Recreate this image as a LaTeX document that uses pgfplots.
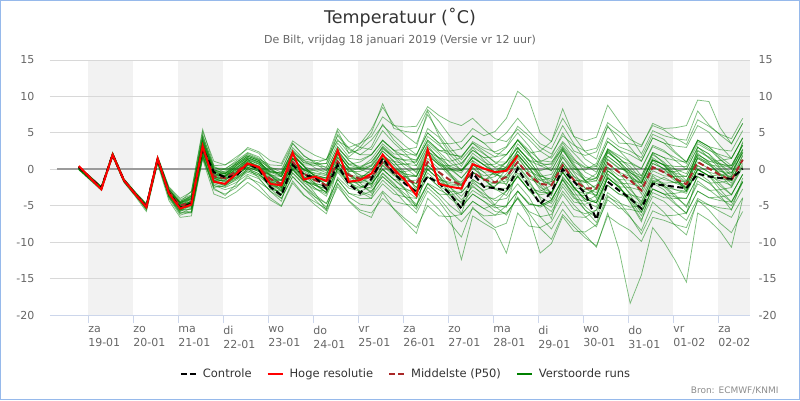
\documentclass[border=0pt]{standalone}
\usepackage{fontspec}
\setmainfont{DejaVu Sans}
\usepackage{pgfplots}
\usepackage{pgfplotstable}
\pgfplotsset{compat=1.18}
\definecolor{axblue}{RGB}{204,214,235}
\definecolor{frameblue}{RGB}{150,185,235}
\definecolor{gridgray}{RGB}{216,216,216}
\definecolor{bandgray}{RGB}{242,242,242}
\definecolor{labgray}{RGB}{102,102,102}
\definecolor{titlegray}{RGB}{51,51,51}
\definecolor{memgreen}{RGB}{0,128,0}
\definecolor{medred}{RGB}{170,40,40}
\definecolor{zerogray}{RGB}{155,155,155}

\pgfplotstableread[header=false]{
t -5 1 7 13 19 25 31 37 43 49 55 61 67 73 79 85 91 97 103 109 115 121 127 133 139 145 151 157 163 169 175 181 187 193 199 205 211 217 223 229 235 241 247 253 259 265 271 277 283 289 295 301 307 313 319 325 331 337 343 349
c 0.3 -1.2 -2.6 2.0 -1.5 -3.4 -5.1 1.4 -3.2 -5.3 -4.7 2.9 -0.4 -1.1 -0.9 0.8 0.0 -2.4 -3.6 0.6 -0.8 -1.1 -2.7 0.6 -2.0 -3.3 -1.3 1.5 -0.6 -2.0 -3.1 -1.0 -1.9 -3.4 -5.4 -0.5 -2.4 -2.6 -2.9 0.1 -2.3 -4.8 -3.1 0.0 -1.7 -3.3 -6.9 -1.7 -2.9 -4.0 -5.4 -2.0 -2.2 -2.4 -2.6 -0.6 -1.0 -1.2 -1.3 0.1
h 0.45 -1.2 -2.75 2.0 -1.5 -3.4 -5.2 1.45 -3.3 -5.4 -4.85 3.2 -1.7 -2.0 -0.6 0.8 0.3 -2.0 -2.2 2.3 -1.4 -1.0 -1.6 2.6 -1.7 -1.5 -0.6 2.0 0.0 -1.5 -3.6 2.7 -2.0 -2.4 -2.65 0.7 0.1 -0.4 -0.2 1.9 nan nan nan nan nan nan nan nan nan nan nan nan nan nan nan nan nan nan nan nan
p 0.3 -1.1 -2.5 2.0 -1.5 -3.3 -5.0 1.4 -3.1 -5.0 -4.5 3.0 -1.0 -1.2 -0.3 0.8 0.2 -1.3 -2.0 1.0 -0.6 -1.5 -2.2 1.1 -0.8 -1.3 -1.05 1.0 -0.4 -1.3 -2.0 1.0 -0.4 -1.5 -2.2 -0.4 -1.4 -1.8 -1.05 1.0 -0.8 -2.0 -2.2 0.55 -1.5 -2.6 -2.65 0.8 -0.4 -1.5 -2.9 0.3 -0.4 -1.3 -2.05 1.0 0.1 -0.8 -1.5 1.3
m1 0.1 -1.3 -2.7 2.1 -1.6 -3.4 -5.2 1.5 -2.9 -4.7 -4.1 3.5 -0.5 -0.6 0.5 1.6 1.0 -0.4 -1.0 2.0 0.4 -0.2 -0.7 2.6 0.7 0.4 1.0 3.0 1.6 1.2 1.0 4.0 2.6 2.0 1.8 3.6 2.6 1.7 2.0 4.0 2.2 0.5 -0.2 2.6 0.5 -1.1 -1.6 1.8 0.6 -0.7 -2.4 0.8 0.1 -0.5 -1.0 2.0 1.1 0.7 0.5 3.3
m2 0.2 -1.2 -2.6 1.9 -1.5 -3.4 -5.3 1.2 -3.4 -5.5 -5.5 2.0 -2.0 -2.5 -1.8 -0.7 -1.3 -3.0 -4.0 -1.0 -2.6 -3.8 -4.7 -1.4 -3.3 -3.6 -3.0 -1.0 -2.4 -3.8 -5.0 -2.0 -3.4 -5.0 -6.2 -4.4 -5.4 -6.3 -6.0 -4.0 -5.8 -6.5 -6.2 -3.4 -5.5 -6.1 -5.6 -2.2 -3.4 -4.0 -4.9 -1.7 -2.4 -2.8 -3.0 0.0 -0.9 -1.3 -1.5 1.3
m3 0.0 -1.4 -2.8 2.2 -1.4 -3.2 -4.8 1.4 -3.1 -4.6 -3.7 4.3 -0.2 -0.6 0.0 1.1 0.5 -1.4 -2.5 0.5 -1.1 -1.5 -1.7 1.6 -0.3 -0.3 0.5 2.5 1.1 0.7 0.5 3.5 2.1 0.2 -1.2 0.6 -0.4 -1.8 -2.0 0.0 -1.8 -3.8 -4.7 -2.0 -4.0 -4.4 -3.6 -0.2 -1.4 -1.5 -1.9 1.3 0.6 0.4 0.4 3.5 2.6 2.0 1.5 4.3
m4 0.2 -1.2 -2.6 2.0 -1.6 -3.4 -5.3 1.2 -3.4 -5.3 -4.9 2.5 -1.5 -1.2 0.2 1.3 0.7 -0.3 -0.5 2.5 0.9 0.5 0.3 3.6 1.7 3.0 5.0 9.0 5.6 5.2 5.0 8.2 6.6 4.5 2.8 4.6 3.6 2.2 2.0 4.0 2.2 -0.5 -2.2 0.6 -1.5 -3.6 -4.6 -1.2 -2.4 -4.0 -5.9 -2.7 -3.4 -3.3 -3.0 0.0 -0.9 -0.8 -0.5 2.3
m5 0.4 -1.0 -2.4 2.1 -1.4 -3.2 -4.9 1.6 -2.8 -4.5 -3.6 4.8 0.2 -0.1 0.7 1.8 1.2 -0.8 -2.0 1.0 -0.6 -2.0 -3.2 0.1 -1.8 -3.0 -3.6 -1.5 -2.9 -4.6 -6.0 -3.0 -4.4 -6.5 -12.4 -6.4 -7.4 -8.3 -11.5 -6.0 -7.8 -8.0 -7.2 -4.4 -6.5 -6.6 -5.6 -2.2 -3.4 -3.5 -3.9 -0.7 -1.4 -1.8 -2.0 1.0 0.1 -0.3 -0.5 2.3
m6 0.1 -1.3 -2.7 1.8 -1.7 -3.5 -5.5 0.9 -3.8 -6.0 -6.0 1.5 -2.5 -2.2 -0.8 0.3 -0.3 -1.3 -1.5 1.5 -0.1 -0.8 -1.2 2.1 0.2 -0.8 -1.0 1.0 -0.4 -1.8 -3.0 0.0 -1.4 -1.8 -1.7 0.1 -0.9 -0.6 1.0 3.0 1.2 1.0 1.8 5.0 2.5 1.9 2.4 5.8 4.6 3.0 1.1 4.3 3.6 2.2 1.0 4.0 3.1 1.7 0.5 3.3
m7 0.0 -1.3 -2.6 2.0 -1.5 -3.3 -5.1 1.5 -3.0 -4.8 -4.5 3.0 -1.0 -1.6 -1.1 0.0 -0.6 -2.4 -3.5 -0.5 -2.1 -3.8 -5.2 -1.9 -3.8 -4.8 -5.0 -3.0 -4.4 -4.8 -5.0 -2.0 -3.4 -3.5 -3.2 -1.4 -2.4 -2.3 -1.0 1.0 -0.8 -1.5 -1.2 1.6 -0.5 -2.6 -3.6 -0.2 -1.4 -3.5 -5.9 -2.7 -3.4 -4.8 -6.0 -3.0 -3.9 -4.3 -4.5 -1.7
m8 0.2 -1.2 -2.5 2.1 -1.4 -3.3 -5.1 1.3 -3.3 -5.1 -4.4 3.3 -0.7 -0.6 0.7 1.8 1.2 0.2 0.0 3.0 1.4 1.2 1.3 4.6 2.7 2.0 2.0 4.0 2.6 1.0 -0.5 2.5 1.1 -0.8 -2.2 -0.4 -1.4 -2.6 -2.6 -0.5 -2.3 -3.2 -3.2 -0.4 -2.5 -2.8 -2.2 1.3 0.1 -0.2 -0.9 2.3 1.6 1.2 1.0 4.0 3.1 2.7 2.5 5.3
m9 0.3 -1.1 -2.5 2.0 -1.5 -3.4 -5.0 1.6 -2.6 -4.4 -3.7 4.0 0.0 -0.7 -0.3 0.8 0.2 -1.8 -3.0 0.0 -1.6 -2.2 -2.7 0.6 -1.3 -1.3 -0.6 1.5 0.1 -1.0 -2.0 1.0 -0.4 -2.5 -4.2 -2.4 -3.4 -4.3 -4.0 -2.0 -3.8 -6.5 -8.2 -5.5 -7.5 -9.0 -10.7 -6.0 -11.0 -18.4 -14.5 -8.0 -10.0 -12.5 -15.5 -6.0 -7.0 -8.5 -10.7 -4.0
m10 0.1 -1.2 -2.7 1.9 -1.6 -3.4 -5.4 1.1 -3.7 -5.8 -4.9 2.7 -1.3 -1.0 0.5 1.6 1.0 -0.9 -2.0 1.0 -0.6 -2.0 -3.2 0.1 -1.8 -1.3 0.0 2.0 0.6 0.7 1.0 4.0 2.6 2.5 2.8 4.6 3.6 3.7 5.0 7.0 5.2 3.5 2.8 6.0 3.5 1.4 0.4 3.8 2.6 2.0 1.1 4.3 3.6 3.2 3.0 6.0 5.1 3.2 1.5 4.3
m11 0.3 -1.0 -2.4 2.1 -1.4 -3.3 -5.0 1.4 -3.1 -5.2 -4.9 2.5 -1.5 -2.0 -1.3 -0.2 -0.8 -1.6 -1.5 1.5 -0.1 -0.2 -0.2 3.1 1.2 0.2 0.0 2.0 0.6 -1.0 -2.5 0.5 -0.9 -3.0 -4.7 -2.9 -3.9 -4.0 -3.0 -1.0 -2.8 -3.0 -2.2 0.6 -1.5 -1.6 -0.6 2.8 1.6 0.0 -1.9 1.3 0.6 -1.3 -3.0 0.0 -0.9 -2.3 -3.5 -0.7
m12 0.2 -1.1 -2.5 2.2 -1.3 -3.1 -4.8 1.6 -2.7 -4.6 -3.9 3.8 -0.2 0.0 1.2 2.3 1.7 0.0 -1.0 2.0 0.4 -1.0 -2.2 1.1 -0.8 -1.8 -2.0 0.0 -1.4 -2.8 -4.0 -1.0 -2.4 -3.0 -3.2 -1.4 -2.4 -1.8 0.0 2.0 0.2 -0.2 0.3 3.0 1.0 0.2 0.4 3.8 2.6 1.0 -0.9 2.3 1.6 0.0 -1.6 1.5 0.6 -0.6 -1.5 1.3
m13 0.0 -1.4 -2.8 1.8 -1.7 -3.6 -5.4 1.0 -3.7 -5.9 -5.9 1.8 -2.2 -2.8 -2.3 -1.2 -1.8 -2.8 -3.0 0.0 -1.6 -2.2 -2.7 0.6 -1.3 -2.3 -2.6 -0.5 -1.9 -3.8 -5.5 -2.5 -3.9 -5.8 -7.2 -5.4 -6.4 -6.3 -5.0 -3.0 -4.8 -5.0 -4.2 -1.4 -3.5 -5.6 -6.6 -3.2 -4.4 -6.5 -8.9 -5.7 -6.4 -6.3 -6.0 -3.0 -3.9 -3.8 -3.5 -0.7
m14 0.3 -1.0 -2.4 2.3 -1.3 -3.2 -4.9 1.5 -3.0 -4.9 -4.2 3.4 -0.6 -0.9 -0.1 1.0 0.4 -0.4 -0.5 2.5 0.9 0.8 0.8 4.1 2.2 2.7 4.0 6.0 4.6 3.2 2.0 5.0 3.6 1.5 -0.2 1.6 0.6 0.7 2.0 4.0 2.2 2.5 3.8 7.0 4.5 3.9 4.4 8.8 6.6 4.5 2.1 5.3 4.6 4.2 4.0 8.0 6.1 4.7 3.5 6.3
m15 0.1 -1.2 -2.6 1.9 -1.6 -3.4 -5.2 1.2 -3.4 -5.2 -4.5 3.0 -1.0 -1.4 -0.8 0.3 -0.3 -2.0 -3.0 0.0 -1.6 -2.0 -2.2 1.1 -0.8 -1.0 -0.6 1.5 0.1 -0.6 -1.0 2.0 0.6 -1.0 -2.2 -0.4 -1.4 -2.0 -1.6 0.5 -1.3 -2.0 -1.7 1.0 -1.0 -1.8 -1.6 1.8 0.6 -1.0 -2.9 0.3 -0.4 -1.6 -2.6 0.5 -0.4 -0.8 -1.0 1.8
m16 0.2 -1.2 -2.6 2.0 -1.5 -3.3 -5.0 1.5 -2.9 -5.2 -5.3 2.2 -1.8 -2.2 -1.5 -0.4 -1.0 -2.2 -2.5 0.5 -1.1 -1.2 -1.2 2.1 0.2 0.2 1.0 3.0 1.6 0.2 -1.0 2.0 0.6 0.5 0.8 2.6 1.6 1.7 3.0 5.0 3.2 1.0 -0.2 2.6 0.5 -1.6 -2.6 0.8 -0.4 -2.5 -4.9 -1.7 -2.4 -3.8 -5.0 -2.0 -2.9 -2.8 -2.5 0.3
m17 0.1 -1.3 -2.6 2.1 -1.5 -3.3 -5.1 1.3 -3.2 -5.0 -4.0 3.6 -0.4 -0.3 0.9 2.0 1.4 0.6 0.5 3.5 1.9 0.8 -0.2 3.1 1.2 0.0 -0.6 1.5 0.1 -1.6 -3.0 0.0 -1.4 -3.5 -5.2 -3.4 -4.4 -5.8 -6.0 -4.0 -6.5 -11.5 -10.2 -6.5 -8.5 -8.6 -7.6 -4.2 -5.4 -5.5 -5.9 -2.7 -3.4 -3.8 -4.0 -1.0 -1.9 -3.3 -4.5 -1.7
m18 0.3 -1.1 -2.5 1.9 -1.6 -3.4 -5.0 1.4 -3.1 -5.0 -4.4 3.2 -0.8 -1.3 -0.6 0.5 -0.1 -1.8 -2.8 0.2 -1.4 -2.6 -3.7 -0.4 -2.3 -2.6 -2.0 0.0 -1.4 -1.6 -1.5 1.5 0.1 -0.2 -0.2 1.6 0.6 -0.3 0.0 2.0 0.2 -2.0 -3.2 -0.4 -2.5 -4.1 -4.6 -1.2 -2.4 -2.5 -2.9 0.3 -0.4 -0.3 0.0 3.0 2.1 0.7 -0.5 2.3
m19 0.0 -1.3 -2.7 2.0 -1.5 -3.4 -5.3 1.2 -3.6 -5.7 -4.4 4.4 -0.1 -0.5 0.2 1.3 0.7 -0.8 -1.5 1.5 -0.1 -0.5 -0.7 2.6 0.7 1.0 2.0 4.0 2.6 2.7 3.0 8.0 4.6 2.5 0.8 2.6 1.6 0.2 0.0 2.0 0.2 -1.5 -2.2 0.6 -1.5 -1.8 -1.2 2.3 1.1 0.8 0.1 3.3 2.6 1.2 0.0 3.0 2.1 0.2 -1.5 1.3
m20 0.4 -1.0 -2.4 2.2 -1.4 -3.2 -4.9 1.6 -2.8 -4.7 -4.6 2.8 -1.2 -1.3 -0.3 0.8 0.2 -2.0 -3.5 -0.5 -2.1 -3.5 -4.7 -1.4 -3.3 -4.0 -4.0 -2.0 -3.4 -3.8 -4.0 -1.0 -2.4 -4.0 -5.2 -3.4 -4.4 -5.3 -5.0 -3.0 -4.8 -5.0 -4.2 -1.4 -3.5 -3.6 -2.6 0.8 -0.4 -1.0 -1.9 1.3 0.6 -1.3 -3.0 0.0 -0.9 -2.8 -4.5 -1.7
m21 0.2 -1.2 -2.6 2.1 -1.5 -3.4 -5.1 1.4 -3.1 -4.5 -3.0 5.5 0.5 0.6 1.7 2.8 2.2 0.2 -1.0 2.0 0.4 -1.0 -2.2 1.1 -0.8 -1.6 -1.6 0.5 -0.9 -1.0 -1.0 2.0 0.6 0.0 -0.2 1.6 0.6 -0.8 -1.0 1.0 -0.8 -2.5 -3.2 -0.4 -2.5 -4.1 -4.6 -1.2 -2.4 -4.2 -6.4 -3.2 -3.9 -4.0 -4.0 -1.0 -1.9 -1.8 -1.5 1.3
m22 0.3 -1.1 -2.5 2.0 -1.5 -3.3 -5.0 1.5 -3.0 -5.5 -5.5 1.7 -2.3 -2.4 -1.3 -0.2 -0.8 -1.8 -2.0 1.0 -0.6 -1.2 -1.7 1.6 -0.3 0.2 1.4 3.5 2.1 2.0 2.0 5.0 3.6 3.5 3.8 5.6 4.6 5.2 7.0 10.7 9.5 5.0 3.8 8.3 4.5 2.4 1.4 6.0 3.6 3.5 3.1 6.3 5.6 5.7 6.0 9.5 9.3 5.7 3.5 6.3
m23 0.1 -1.2 -2.6 2.1 -1.5 -3.3 -5.2 1.3 -3.3 -5.3 -4.4 3.1 -0.9 -0.8 0.3 1.4 0.8 -1.2 -2.3 0.7 -0.9 -2.2 -3.2 0.1 -1.8 -1.8 -1.0 1.0 -0.4 -0.3 0.0 3.0 1.6 0.0 -1.2 0.6 -0.4 -0.3 1.0 3.0 1.2 0.5 0.8 3.6 1.5 -0.4 -1.2 2.3 1.1 -1.0 -3.4 -0.2 -0.9 -1.0 -1.0 2.0 1.1 1.2 1.5 4.3
m24 0.2 -1.1 -2.5 2.0 -1.5 -3.3 -5.1 1.4 -3.1 -5.3 -5.1 2.4 -1.6 -1.5 -0.3 0.8 0.2 -0.8 -1.0 2.0 0.4 -1.0 -2.2 1.1 -0.8 -2.3 -3.0 -1.0 -2.4 -2.8 -3.0 0.0 -1.4 -2.0 -2.2 -0.4 -1.4 -2.8 -3.0 -1.0 -2.8 -4.5 -5.2 -2.4 -4.5 -4.8 -4.2 -0.7 -1.9 -2.0 -2.4 0.8 0.1 -1.3 -2.6 0.5 -0.4 -2.0 -3.5 -0.7
m25 0.2 -1.2 -2.5 2.1 -1.4 -3.2 -4.9 1.5 -2.8 -4.6 -4.0 3.5 -0.5 -1.2 -0.8 0.3 -0.3 -2.6 -4.0 -1.0 -2.6 -4.2 -5.7 -2.4 -4.3 -5.6 -6.0 -4.0 -5.4 -6.8 -8.0 -5.0 -6.4 -6.5 -6.2 -4.4 -5.4 -4.8 -3.0 -1.0 -2.8 -3.5 -3.2 -0.4 -2.5 -4.1 -4.6 -1.2 -2.4 -4.5 -6.9 -3.7 -4.4 -5.8 -7.0 -4.0 -4.9 -5.3 -5.5 -2.7
m26 0.0 -1.3 -2.7 1.9 -1.6 -3.4 -5.2 1.2 -3.6 -5.5 -4.4 3.3 -0.7 -0.6 0.7 1.8 1.2 -0.6 -1.5 1.5 -0.1 -0.8 -1.2 2.1 0.2 0.0 0.4 2.5 1.1 -0.8 -2.5 0.5 -0.9 -2.5 -3.7 -1.9 -2.9 -2.3 -0.6 1.5 -0.3 -1.0 -0.7 2.0 0.0 -0.1 0.8 4.3 3.1 2.5 1.6 4.8 4.1 2.4 1.0 4.0 3.1 1.4 0.0 2.8
m27 0.2 -1.2 -2.6 2.0 -1.6 -3.4 -5.0 1.4 -3.0 -5.0 -4.7 2.8 -1.2 -0.9 0.5 1.6 1.0 -0.3 -0.8 2.2 0.6 0.6 0.8 5.3 2.2 3.5 5.5 8.5 6.1 4.7 3.5 7.5 5.1 3.0 1.3 3.1 2.1 1.0 1.0 3.0 1.2 -0.8 -1.7 1.0 -1.0 -2.6 -3.2 0.3 -0.9 -1.2 -1.9 1.3 0.6 0.0 -0.6 2.5 1.6 0.0 -1.5 1.3
m28 0.1 -1.2 -2.6 1.9 -1.6 -3.3 -5.2 1.3 -3.4 -5.4 -4.3 3.7 -0.3 -1.0 -0.5 0.6 0.0 -1.4 -2.0 1.0 -0.6 -1.0 -1.2 2.1 0.2 -1.3 -2.0 0.0 -1.4 -2.6 -3.5 -0.5 -1.9 -2.2 -2.2 -0.4 -1.4 -1.0 0.4 2.5 0.7 -1.2 -2.2 0.6 -1.5 -3.1 -3.6 -0.2 -1.4 -2.8 -4.4 -1.2 -1.9 -1.8 -1.6 1.5 0.6 0.4 0.5 3.3
m29 0.2 -1.2 -2.6 2.2 -1.4 -3.2 -5.1 1.7 -2.5 -4.2 -3.5 4.6 0.4 -0.5 0.9 2.2 1.5 0.3 -0.4 3.6 1.8 1.0 0.2 4.8 2.9 2.0 3.1 6.2 4.0 2.5 1.8 5.6 4.4 2.0 0.4 3.0 1.2 -0.6 -1.4 1.8 -0.5 -2.8 -3.6 0.2 -2.4 -4.4 -5.2 -1.0 -2.6 -3.9 -5.5 -1.8 -1.1 -1.9 -2.5 1.6 0.9 -0.2 -1.1 2.7
m30 0.0 -1.4 -2.8 1.9 -1.7 -3.5 -5.6 1.0 -4.0 -6.3 -5.8 1.9 -2.8 -3.4 -2.5 -0.9 -2.2 -3.9 -5.0 -1.6 -3.5 -4.9 -6.1 -2.0 -4.4 -5.9 -6.6 -3.2 -5.5 -7.2 -8.8 -4.0 -5.5 -7.4 -9.3 -5.2 -6.8 -8.0 -7.4 -3.0 -4.6 -5.2 -4.4 -1.2 -2.8 -3.4 -2.7 1.4 0.2 -0.5 -1.2 2.0 1.0 -0.6 -1.8 2.2 0.9 -0.8 -2.4 0.5
m31 0.3 -1.1 -2.5 2.1 -1.5 -3.3 -4.9 1.5 -3.0 -4.9 -4.6 3.3 -1.2 -1.8 -0.6 1.4 -0.2 -0.7 -2.6 1.9 0.5 -1.9 -2.5 2.5 -0.1 -0.8 -2.3 1.8 1.0 -0.4 -2.9 2.6 0.8 -0.6 -3.0 1.2 -1.6 -0.3 -2.2 2.8 1.4 -1.0 -3.5 2.9 0.2 -1.6 -4.0 2.7 1.5 0.4 -1.4 2.2 0.8 -0.9 -2.8 3.1 1.5 0.6 -0.9 3.8
m32 0.1 -1.3 -2.6 1.9 -1.6 -3.4 -5.3 1.3 -3.5 -5.6 -4.8 2.6 -1.8 -2.2 -1.0 0.6 -0.2 -1.6 -2.8 1.4 0.0 -0.6 -0.9 2.8 1.5 1.3 2.0 3.9 2.6 1.8 1.2 4.5 3.3 2.1 1.7 3.6 2.2 0.9 0.2 2.1 0.3 -2.2 -4.1 -1.5 -3.8 -5.6 -7.3 -3.6 -5.0 -6.6 -8.4 -4.5 -5.9 -7.7 -9.0 -4.2 -5.6 -7.4 -8.7 -5.8
m33 0.4 -1.0 -2.4 2.3 -1.3 -3.1 -4.7 1.8 -2.4 -4.0 -3.1 5.2 1.1 0.6 1.4 3.0 2.4 1.2 0.8 3.9 2.8 1.9 1.3 5.6 3.8 3.0 2.7 5.3 3.6 2.2 0.5 3.3 1.4 -0.6 -2.0 0.3 -1.3 -2.7 -3.6 -0.8 -2.9 -4.6 -5.8 -3.0 -4.9 -6.5 -7.9 -3.8 -4.6 -5.2 -5.0 -1.5 -2.0 -2.8 -3.3 -0.1 -0.9 -1.6 -2.2 0.8
m34 -0.1 -1.5 -2.9 1.7 -1.8 -3.7 -5.8 0.7 -4.3 -6.6 -6.4 1.4 -3.4 -4.0 -3.1 -1.8 -2.9 -4.2 -5.1 -1.9 -3.6 -4.5 -5.4 -1.1 -2.6 -3.0 -2.4 0.6 -0.7 -1.5 -2.0 2.2 0.9 0.1 -0.5 1.8 0.6 -0.4 0.3 3.5 1.9 0.8 0.6 3.2 1.3 0.3 0.1 2.6 1.0 -0.4 -1.6 1.2 0.0 -1.4 -2.4 1.8 0.7 -0.7 -1.9 2.0
m35 0.2 -1.2 -2.5 2.0 -1.5 -3.3 -5.0 1.4 -3.2 -5.1 -4.4 3.2 -0.8 -1.0 0.1 1.5 0.9 -0.2 -0.6 2.3 1.2 0.8 1.4 3.9 3.0 3.6 4.5 7.2 6.0 5.8 5.9 8.6 7.4 6.5 6.0 7.0 5.5 4.2 3.8 5.5 4.1 2.5 1.5 3.8 2.2 0.6 -0.4 2.5 1.1 -0.4 -1.8 1.6 0.5 -0.8 -2.0 2.6 1.7 0.8 0.1 3.6
m36 0.1 -1.3 -2.7 1.9 -1.6 -3.5 -5.4 1.1 -3.8 -6.1 -5.3 2.3 -1.6 -1.5 -0.4 1.1 0.4 -0.9 -1.6 1.5 -0.3 -1.1 -1.4 1.8 -0.5 -1.9 -3.3 -0.6 -2.1 -3.4 -4.8 -1.9 -2.8 -3.6 -4.5 -2.2 -3.7 -5.1 -6.3 -3.8 -6.0 -8.1 -9.6 -6.2 -7.9 -9.4 -10.5 -6.4 -7.5 -8.4 -9.9 -6.6 -7.0 -7.6 -8.0 -4.4 -4.9 -5.8 -6.6 -3.9
m37 0.3 -1.1 -2.4 2.1 -1.4 -3.3 -5.1 1.6 -2.8 -4.7 -4.0 3.9 -0.2 -0.9 -0.1 1.3 0.0 -1.6 -2.4 0.4 -1.3 -2.6 -3.4 -0.2 -1.9 -2.5 -1.7 1.6 0.3 -0.7 -0.9 2.4 1.6 1.1 1.6 3.8 2.9 2.4 3.1 5.9 4.6 3.0 2.1 4.6 3.3 2.5 2.9 6.4 5.2 4.1 3.3 6.0 5.4 4.3 3.4 6.8 5.9 4.8 4.2 7.0
m38 0.2 -1.2 -2.6 2.0 -1.5 -3.4 -5.2 1.3 -3.3 -5.6 -5.9 2.0 -2.6 -3.6 -2.0 0.2 -1.2 -3.0 -4.4 0.6 -1.4 -3.3 -5.6 0.4 -1.6 -3.1 -4.0 0.9 -0.6 -2.8 -5.2 0.6 -1.0 -3.4 -6.1 -1.6 -3.1 -4.9 -5.2 0.4 -1.5 -4.0 -6.8 -1.0 -3.0 -5.1 -6.4 -0.6 -2.2 -4.6 -7.2 -1.9 -2.8 -4.6 -6.1 -0.5 -1.6 -3.6 -5.6 -1.2
m39 0.0 -1.4 -2.7 2.2 -1.5 -3.2 -4.9 1.5 -2.9 -4.6 -3.8 4.1 0.2 0.1 1.0 2.0 1.3 0.0 -0.7 2.7 1.2 0.2 -0.5 2.4 0.6 0.1 0.6 3.2 1.8 0.6 -0.3 2.9 1.6 0.4 -0.2 2.2 1.0 0.3 0.9 4.1 2.6 1.2 1.0 2.8 0.8 -1.5 -2.8 0.3 -1.6 -3.3 -4.6 -0.9 -2.2 -3.5 -5.2 -1.6 -2.8 -4.0 -5.0 -1.8
m40 0.2 -1.2 -2.6 2.0 -1.6 -3.4 -5.1 1.4 -3.1 -5.1 -4.7 2.9 -1.3 -1.7 -1.2 0.1 -0.6 -2.3 -3.4 -0.1 -1.8 -2.8 -3.0 0.9 -0.9 -1.2 -0.2 2.8 1.6 1.3 1.3 3.8 2.4 0.9 -0.1 1.2 0.1 -0.8 -0.2 2.5 0.7 -0.9 -1.4 1.7 -0.3 -1.5 -1.2 2.8 1.9 1.0 0.1 3.1 2.4 1.6 0.8 3.8 2.8 1.3 0.2 2.6
}\raw
\pgfplotstabletranspose[colnames from=0]\data\raw

\begin{document}
\begin{tikzpicture}
\useasboundingbox (0pt,0pt) rectangle (800pt,400pt);
\draw[frameblue, line width=1pt] (0.5pt,0.5pt) rectangle (799.5pt,399.5pt);
\node[font=\fontsize{17.5}{21}\selectfont, text=titlegray] at (400pt,382pt) {Temperatuur (˚C)};
\node[font=\fontsize{11}{13}\selectfont, text=labgray] at (400pt,360pt) {De Bilt, vrijdag 18 januari 2019 (Versie vr 12 uur)};
\node[anchor=east, font=\fontsize{9}{11}\selectfont, text=black!45] at (782pt,9pt) {Bron: ECMWF/KNMI};

\begin{axis}[
  at={(50pt,85pt)}, anchor=south west,
  width=700pt, height=255pt, scale only axis,
  xmin=-20.4, xmax=352.9, ymin=-20, ymax=15,
  ytick={-20,-15,...,15},
  xtick={0,24,...,336},
  xticklabels={{za\\19-01},{zo\\20-01},{ma\\21-01},{di\\22-01},{wo\\23-01},{do\\24-01},{vr\\25-01},{za\\26-01},{zo\\27-01},{ma\\28-01},{di\\29-01},{wo\\30-01},{do\\31-01},{vr\\01-02},{za\\02-02}},
  axis x line*=bottom, axis y line*=left,
  x axis line style={axblue, line width=1pt},
  y axis line style={draw=none},
  tick align=outside,
  major tick length=8pt,
  xtick style={axblue, line width=1pt},
  ytick style={draw=none},
  xticklabel style={anchor=north west, align=left, xshift=-3.5pt, font=\fontsize{11}{14}\selectfont, text=labgray},
  yticklabel style={font=\fontsize{11}{13}\selectfont, text=labgray, xshift=-4pt},
  /pgf/number format/assume math mode=true,
  legend columns=4,
  legend cell align=left,
  legend image code/.code={\draw[#1] (0pt,0pt) -- (15pt,0pt);},
  legend style={at={(0.5,0)}, anchor=center, xshift=5pt, yshift=-59pt, draw=none, fill=none,
    font=\fontsize{11.5}{14}\selectfont, text=titlegray,
    nodes={inner sep=0pt},
    /tikz/every odd column/.append style={column sep=6pt},
    /tikz/every even column/.append style={column sep=15pt}},
]
\addplot[forget plot, draw=none, fill=bandgray] coordinates {(0,-20) (24,-20) (24,15) (0,15)};
\addplot[forget plot, draw=none, fill=bandgray] coordinates {(48,-20) (72,-20) (72,15) (48,15)};
\addplot[forget plot, draw=none, fill=bandgray] coordinates {(96,-20) (120,-20) (120,15) (96,15)};
\addplot[forget plot, draw=none, fill=bandgray] coordinates {(144,-20) (168,-20) (168,15) (144,15)};
\addplot[forget plot, draw=none, fill=bandgray] coordinates {(192,-20) (216,-20) (216,15) (192,15)};
\addplot[forget plot, draw=none, fill=bandgray] coordinates {(240,-20) (264,-20) (264,15) (240,15)};
\addplot[forget plot, draw=none, fill=bandgray] coordinates {(288,-20) (312,-20) (312,15) (288,15)};
\addplot[forget plot, draw=none, fill=bandgray] coordinates {(336,-20) (352.9,-20) (352.9,15) (336,15)};
\addplot[forget plot, gridgray, line width=1pt] coordinates {(-20.4,15) (352.9,15)};
\addplot[forget plot, gridgray, line width=1pt] coordinates {(-20.4,10) (352.9,10)};
\addplot[forget plot, gridgray, line width=1pt] coordinates {(-20.4,5) (352.9,5)};
\addplot[forget plot, gridgray, line width=1pt] coordinates {(-20.4,0) (352.9,0)};
\addplot[forget plot, gridgray, line width=1pt] coordinates {(-20.4,-5) (352.9,-5)};
\addplot[forget plot, gridgray, line width=1pt] coordinates {(-20.4,-10) (352.9,-10)};
\addplot[forget plot, gridgray, line width=1pt] coordinates {(-20.4,-15) (352.9,-15)};
\addplot[forget plot, zerogray, line width=1.6pt] coordinates {(-16.7,0) (352.9,0)};
\pgfplotsinvokeforeach{1,...,40}{
  \addplot[forget plot, memgreen, opacity=0.5, line width=0.75pt] table[x=t, y=m#1] {\data};
}
\addplot[forget plot, medred, line width=2pt, dash pattern=on 6pt off 3.5pt] table[x=t, y=p] {\data};
\addplot[forget plot, black, line width=2pt, dash pattern=on 6pt off 3.5pt] table[x=t, y=c] {\data};
\addplot[forget plot, red, line width=2pt] table[x=t, y=h] {\data};
\addlegendimage{black, line width=2pt, dash pattern=on 6pt off 3pt}
\addlegendentry{Controle}
\addlegendimage{red, line width=2pt}
\addlegendentry{Hoge resolutie}
\addlegendimage{medred, line width=2pt, dash pattern=on 6pt off 3pt}
\addlegendentry{Middelste (P50)}
\addlegendimage{memgreen, line width=2pt}
\addlegendentry{Verstoorde runs}
\end{axis}

\begin{axis}[
  at={(50pt,85pt)}, anchor=south west,
  width=700pt, height=255pt, scale only axis,
  xmin=-20.4, xmax=352.9, ymin=-20, ymax=15,
  ytick={-20,-15,...,15},
  hide x axis,
  axis y line*=right,
  y axis line style={draw=none},
  ytick style={draw=none},
  tick align=outside, major tick length=8pt,
  yticklabel style={font=\fontsize{11}{13}\selectfont, text=labgray, anchor=west, xshift=-3pt},
  /pgf/number format/assume math mode=true,
]
\end{axis}
\end{tikzpicture}
\end{document}
